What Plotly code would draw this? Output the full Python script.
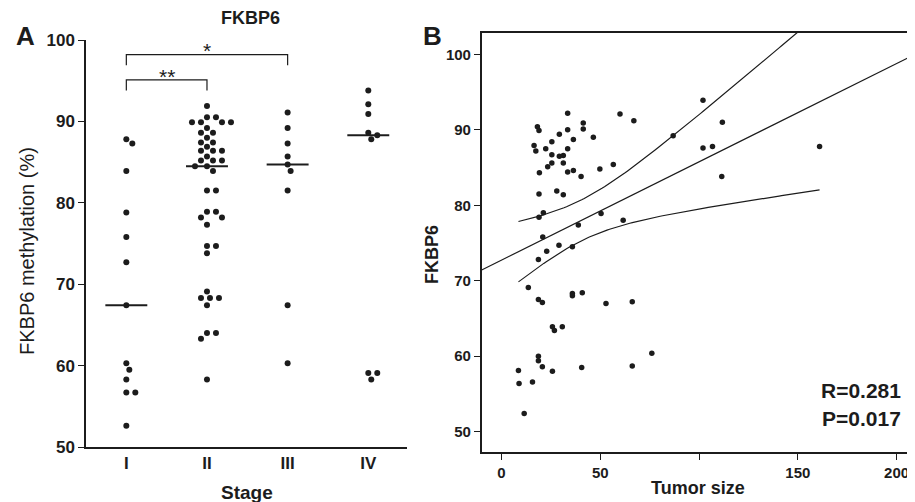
import numpy as np
import plotly.graph_objects as go

# ---- Panel A: methylation by stage ----
stages = ["I", "II", "III", "IV"]
stage_I = [87.8, 87.3, 83.9, 78.8, 75.8, 72.7, 67.4, 60.3, 59.5, 58.3, 56.7, 56.7, 52.6]
stage_II = [91.9, 90.5, 90.5, 89.9, 89.9, 89.9, 89.9, 89.2, 88.6, 88.6, 88.0, 87.4, 87.4,
            86.9, 86.4, 86.4, 86.4, 85.7, 85.2, 85.2, 85.2, 84.5, 84.5, 83.9, 81.5, 81.5,
            78.9, 78.9, 78.2, 78.2, 77.3, 74.7, 74.7, 73.8, 69.1, 68.3, 68.3, 68.3, 67.4,
            64.0, 64.0, 63.3, 58.3]
stage_III = [91.1, 89.2, 87.3, 85.7, 84.7, 83.9, 81.5, 67.4, 60.3]
stage_IV = [93.8, 92.1, 90.9, 88.6, 88.3, 87.8, 59.1, 59.1, 58.3]
stage_values = [stage_I, stage_II, stage_III, stage_IV]

# significance brackets: (from stage, to stage, label, level)
brackets = [(0, 1, "**", 95.1), (0, 2, "*", 98.2)]

# ---- Panel B: correlation with tumor size ----
tumor_size = [16.5, 17.4, 18.2, 19.0, 19.2, 19.0, 19.0, 21.2, 20.9, 22.4, 23.4, 25.5, 25.5,
              25.5, 28.0, 29.3, 29.3, 31.3, 31.3, 31.3, 33.5, 33.5, 33.5, 33.5, 36.4, 36.4,
              40.3, 41.4, 41.4, 46.5, 49.8, 56.6, 60.0, 67.0, 86.9, 102.0, 102.0, 106.8,
              111.8, 111.5, 161.0, 38.9, 50.4, 61.6, 35.9, 22.9, 29.1, 18.7, 13.6, 18.7,
              20.7, 35.9, 35.9, 40.9, 52.9, 66.2, 25.8, 26.8, 30.8, 18.7, 18.7, 20.7, 25.8,
              40.6, 66.2, 76.1, 8.6, 8.9, 15.7, 11.5]
fkbp6 = [87.9, 87.2, 90.4, 89.9, 84.3, 81.5, 78.4, 79.0, 75.8, 87.5, 85.1, 88.4, 86.7,
         85.6, 81.9, 89.4, 86.5, 86.6, 85.6, 81.4, 92.2, 90.0, 87.5, 84.4, 88.7, 84.6,
         83.8, 90.9, 90.1, 89.0, 84.8, 85.4, 92.1, 91.2, 89.2, 93.9, 87.6, 87.8,
         91.0, 83.8, 87.8, 77.4, 78.9, 78.0, 74.5, 73.9, 74.7, 72.8, 69.1, 67.5,
         67.1, 68.3, 68.0, 68.4, 67.0, 67.2, 63.9, 63.4, 63.9, 60.0, 59.4, 58.6, 58.0,
         58.5, 58.7, 60.4, 58.1, 56.4, 56.6, 52.4]
stats_text = ["R=0.281", "P=0.017"]

FONT = "Liberation Sans, Arial, sans-serif"
INK = "#1c1c1c"

# the page body has an 8px margin, so the figure is sized to fill the window
OFF = 8
W, H = 915 - OFF, 502 - OFF


def px(x):
    return (x - OFF) / W


def py(y):
    return 1 - (y - OFF) / H


fig = go.Figure()


def swarm(values, dot=6.6, step=3.0, xpx=80.7, ypx=8.14):
    """Simple beeswarm: offsets (in category units) so dots don't overlap."""
    placed, offs = [], []
    cands = [0.0] + [s * i * step for i in range(1, 30) for s in (1, -1)]
    for v in values:
        y = v * ypx
        for c in cands:
            if all((c - qx) ** 2 + (y - qy) ** 2 >= dot ** 2 for qx, qy in placed):
                break
        placed.append((c, y))
        offs.append(c / xpx)
    return offs


for i, vals in enumerate(stage_values):
    offs = swarm(vals)
    fig.add_trace(go.Scatter(
        x=[i + o for o in offs], y=vals, mode="markers",
        marker=dict(size=6, color=INK), xaxis="x", yaxis="y", showlegend=False,
    ))
    med = float(np.median(vals))
    fig.add_trace(go.Scatter(
        x=[i - 0.26, i + 0.26], y=[med, med], mode="lines",
        line=dict(color=INK, width=2), xaxis="x", yaxis="y", showlegend=False,
    ))

for a, b, lab, lvl in brackets:
    fig.add_trace(go.Scatter(
        x=[a, a, b, b], y=[lvl - 1.3, lvl, lvl, lvl - 1.3], mode="lines",
        line=dict(color=INK, width=1.2), xaxis="x", yaxis="y", showlegend=False,
    ))
    fig.add_annotation(x=(a + b) / 2, y=lvl - 1.2, xref="x", yref="y", text=lab,
                       showarrow=False, xanchor="center", yanchor="bottom",
                       font=dict(family=FONT, size=21, color=INK))

# panel B scatter + regression with 95% confidence band
tx = np.array(tumor_size)
fy = np.array(fkbp6)
fig.add_trace(go.Scatter(
    x=tx, y=fy, mode="markers", marker=dict(size=5.5, color=INK),
    xaxis="x2", yaxis="y2", showlegend=False,
))
slope, icpt = np.polyfit(tx, fy, 1)
n = len(tx)
resid = fy - (slope * tx + icpt)
s_err = np.sqrt(np.sum(resid ** 2) / (n - 2))
sxx = np.sum((tx - tx.mean()) ** 2)
t95 = 1.995
xr_b = [-10, 209.3]
xl = np.linspace(xr_b[0], xr_b[1], 50)
fig.add_trace(go.Scatter(
    x=xl, y=slope * xl + icpt, mode="lines", line=dict(color=INK, width=1.2),
    xaxis="x2", yaxis="y2", showlegend=False,
))
xb = np.linspace(tx.min(), tx.max(), 120)
half = t95 * s_err * np.sqrt(1 / n + (xb - tx.mean()) ** 2 / sxx)
for sign in (1, -1):
    fig.add_trace(go.Scatter(
        x=xb, y=slope * xb + icpt + sign * half, mode="lines",
        line=dict(color=INK, width=1.2), xaxis="x2", yaxis="y2", showlegend=False,
    ))

fontA = dict(family=FONT, size=17, color=INK)
fontB = dict(family=FONT, size=15, color=INK)
yticks = [50, 60, 70, 80, 90, 100]
bold = lambda seq: ["<b>%s</b>" % s if s != "" else "" for s in seq]

fig.update_layout(
    width=W, height=H,
    margin=dict(l=0, r=0, t=0, b=0),
    paper_bgcolor="white", plot_bgcolor="white",
    xaxis=dict(domain=[px(86), px(407)], range=[-0.5, 3.48], tickvals=list(range(4)),
               ticktext=bold(stages), showgrid=False, zeroline=False, showline=True,
               linecolor=INK, linewidth=1.5, ticks="", tickfont=fontA,
               automargin=False),
    yaxis=dict(domain=[py(447), py(40)], range=[50, 100], tickvals=yticks,
               ticktext=bold(yticks), showgrid=False, zeroline=False, showline=True,
               linecolor=INK, linewidth=1.5, ticks="outside", ticklen=6,
               tickcolor=INK, tickfont=fontA, automargin=False),
    xaxis2=dict(domain=[px(481.7), 1.0], range=xr_b, anchor="y2",
                tickvals=[0, 50, 100, 150, 200],
                ticktext=bold(["0", "50", "", "150", "200"]),
                showgrid=False, zeroline=False, showline=True, mirror=True,
                linecolor=INK, linewidth=1.5, ticks="outside", ticklen=6,
                tickcolor=INK, tickfont=fontB, automargin=False),
    yaxis2=dict(domain=[py(452), py(32.7)], range=[47.31, 102.86], anchor="x2",
                tickvals=yticks, ticktext=bold(yticks),
                showgrid=False, zeroline=False,
                showline=True, linecolor=INK, linewidth=1.5, ticks="outside",
                ticklen=6, tickcolor=INK, tickfont=fontB, automargin=False),
)

notes = [
    ("FKBP6", 250, 18, 18),
    ("A", 25, 36, 26),
    ("B", 432, 36, 26),
    ("Stage", 247, 492, 19),
    ("Tumor size", 698, 488, 18),
]
for txt, x0, y0, fs in notes:
    fig.add_annotation(x=px(x0), y=py(y0), xref="paper", yref="paper",
                       text="<b>%s</b>" % txt, showarrow=False,
                       xanchor="center", yanchor="middle",
                       font=dict(family=FONT, size=fs, color=INK))

fig.add_annotation(x=px(27), y=py(251), xref="paper", yref="paper",
                   text="FKBP6 methylation (%)", textangle=-90, showarrow=False,
                   xanchor="center", yanchor="middle",
                   font=dict(family=FONT, size=20, color=INK))
fig.add_annotation(x=px(432), y=py(255), xref="paper", yref="paper",
                   text="<b>FKBP6</b>", textangle=-90, showarrow=False,
                   xanchor="center", yanchor="middle",
                   font=dict(family=FONT, size=18, color=INK))
for k, txt in enumerate(stats_text):
    fig.add_annotation(x=px(903), y=py(390 + 28 * k), xref="paper",
                       yref="paper", text="<b>%s</b>" % txt, showarrow=False,
                       xanchor="right", yanchor="middle",
                       font=dict(family=FONT, size=21, color=INK))

fig.write_html("out.html")
